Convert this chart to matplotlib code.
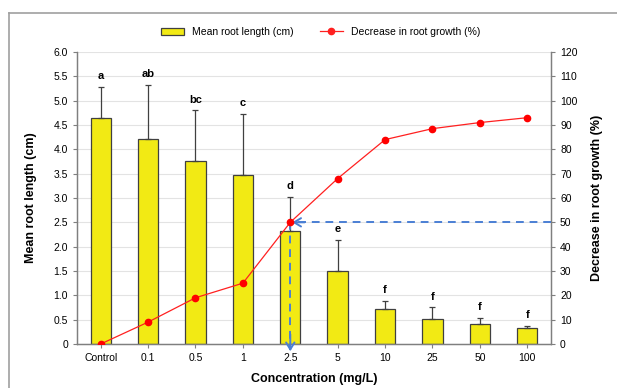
import matplotlib
matplotlib.use("Agg")
import matplotlib.pyplot as plt
from matplotlib.lines import Line2D
from matplotlib.patches import Patch
import numpy as np

concentrations = ["Control", "0.1", "0.5", "1", "2.5", "5", "10", "25", "50", "100"]
root_length = [4.64, 4.22, 3.77, 3.48, 2.32, 1.49, 0.72, 0.52, 0.41, 0.33]
root_length_err = [0.64, 1.11, 1.03, 1.25, 0.71, 0.65, 0.17, 0.23, 0.13, 0.05]
letters = ["a", "ab", "bc", "c", "d", "e", "f", "f", "f", "f"]
decrease = [0, 9, 19, 25, 50, 68, 84, 88.5, 91, 93]

plt.rcParams['font.family'] = ['Liberation Sans', 'DejaVu Sans']

fig = plt.figure(figsize=(6.17, 3.88), dpi=100)
ax = fig.add_axes([0.1248, 0.1134, 0.7682, 0.7526])
ax2 = ax.twinx()

x = np.arange(len(concentrations))
grey = "#7f7f7f"

ax.set_axisbelow(True)
ax.yaxis.grid(True, color="#e3e3e3", linewidth=0.8)
ax.bar(x, root_length, width=0.43, color="#f2ea14", edgecolor="#404040", linewidth=0.9, zorder=2)
ax.errorbar(x, root_length, yerr=[np.zeros(len(x)), root_length_err], fmt="none",
            ecolor="#404040", elinewidth=0.9, capsize=2.5, capthick=0.9, zorder=3)
for xi, h, e, lab in zip(x, root_length, root_length_err, letters):
    ax.text(xi, h + e + 0.12, lab, ha="center", va="bottom", fontsize=8, fontweight="bold")

ax.set_xlim(-0.5, 9.5)
ax.set_ylim(0, 6)
ax.set_yticks(np.arange(0, 6.01, 0.5))
ax.set_yticklabels(["0"] + [f"{v:.1f}" for v in np.arange(0.5, 6.01, 0.5)])
ax.set_xticks(x)
ax.set_xticklabels(concentrations)
ax.tick_params(labelsize=7.5, length=3, color=grey, width=0.8)

ax2.plot(x, decrease, color="#ff2020", linewidth=0.9, marker="o", markersize=4.5,
         markerfacecolor="#ff0000", markeredgecolor="#ff0000", zorder=4)
ax2.set_ylim(0, 120)
ax2.set_yticks(np.arange(0, 121, 10))
ax2.tick_params(labelsize=7.5, length=3, color=grey, width=0.8)

# 50% guide arrows
blue = "#4a7fd4"
ax2.plot([9.5, x[4] + 0.12], [50, 50], color=blue, lw=1.4, linestyle=(0, (4, 3)), zorder=3)
ax2.plot([x[4], x[4]], [50, -2.5], color=blue, lw=1.4, linestyle=(0, (4, 3)), zorder=3,
         clip_on=False)
ax2.annotate("", xy=(x[4] + 0.04, 50), xytext=(x[4] + 0.3, 50),
             arrowprops=dict(arrowstyle="->,head_length=0.5,head_width=0.3", color=blue, lw=1.4,
                             shrinkA=0, shrinkB=0))
ax2.annotate("", xy=(x[4], -3), xytext=(x[4], 4),
             arrowprops=dict(arrowstyle="->,head_length=0.5,head_width=0.3", color=blue, lw=1.4,
                             shrinkA=0, shrinkB=0), annotation_clip=False)

for a in (ax, ax2):
    a.spines["top"].set_visible(False)
    for s in ("left", "right", "bottom"):
        a.spines[s].set_color(grey)
        a.spines[s].set_linewidth(0.9)

ax.set_xlabel("Concentration (mg/L)", fontsize=9, fontweight="bold", labelpad=7)
ax.set_ylabel("Mean root length (cm)", fontsize=9, fontweight="bold", labelpad=12)
ax2.set_ylabel("Decrease in root growth (%)", fontsize=9, fontweight="bold", labelpad=10)

handles = [Patch(facecolor="#f2ea14", edgecolor="#404040", linewidth=0.9),
           Line2D([0], [0], color="#ff2020", marker="o", markersize=4.5, linewidth=0.9)]
fig.legend(handles, ["Mean root length (cm)", "Decrease in root growth (%)"],
           loc="center", bbox_to_anchor=(0.52, 0.918), ncol=2, frameon=False,
           fontsize=7.5, handlelength=2.2, columnspacing=2.5)

# outer frame lines
fig.add_artist(Line2D([0.0146, 1.0], [0.966, 0.966], color="#a0a0a0", linewidth=1.2))
fig.add_artist(Line2D([0.0146, 0.0146], [0.0, 0.966], color="#a0a0a0", linewidth=1.2))

fig.savefig("out.png", dpi=100)
